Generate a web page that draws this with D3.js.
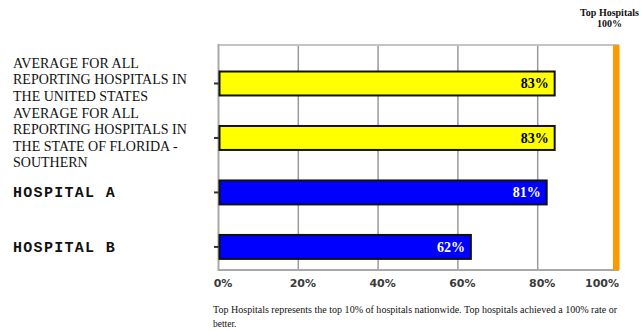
<!DOCTYPE html>
<html><head><meta charset="utf-8">
<script src="https://cdn.jsdelivr.net/npm/d3@7"></script>
<style>body{margin:0;background:#fff}svg{display:block}</style>
</head><body>
<svg id="c" width="641" height="331"></svg>
<script>
const categories = [
  "AVERAGE FOR ALL REPORTING HOSPITALS IN THE UNITED STATES",
  "AVERAGE FOR ALL REPORTING HOSPITALS IN THE STATE OF FLORIDA - SOUTHERN",
  "HOSPITAL A",
  "HOSPITAL B"
];
const labelLines = [
  ["AVERAGE FOR ALL", "REPORTING HOSPITALS IN", "THE UNITED STATES"],
  ["AVERAGE FOR ALL", "REPORTING HOSPITALS IN", "THE STATE OF FLORIDA -", "SOUTHERN"],
  ["HOSPITAL A"],
  ["HOSPITAL B"]
];
const values = [83, 83, 81, 62];
const barKinds = ["avg", "avg", "hosp", "hosp"];
const tickValues = [0, 20, 40, 60, 80, 100];
const topValue = 100;
const topLabel = ["Top Hospitals", "100%"];
const footnote = ["Top Hospitals represents the top 10% of hospitals nationwide. Top hospitals achieved a 100% rate or", "better."];

const svg = d3.select("#c");
const L = 218.5, R = 617.5, T = 45, B = 270;
const x = d3.scaleLinear().domain([0, 100]).range([L, R]);
const y = d3.scaleBand().domain(categories).range([T, B])
  .paddingInner(0.56).paddingOuter(0.345).align(0.705);
const fill = d3.scaleOrdinal().domain(["avg", "hosp"]).range(["#ffff00", "#0000ff"]);
const textFill = d3.scaleOrdinal().domain(["avg", "hosp"]).range(["#000", "#fff"]);
const cy = c => y(c) + y.bandwidth() / 2;

// gridlines
svg.append("g").selectAll("line").data(tickValues.slice(1, -1)).join("line")
  .attr("x1", d => x(d)).attr("x2", d => x(d)).attr("y1", T).attr("y2", B)
  .attr("stroke", "#9a9a9a").attr("stroke-width", 1.5);
// frame top & left & bottom
svg.append("line").attr("x1", L).attr("x2", R + 1.5).attr("y1", T).attr("y2", T)
  .attr("stroke", "#c4c4c4").attr("stroke-width", 2);
svg.append("line").attr("x1", L).attr("x2", L).attr("y1", T - 1).attr("y2", B + 1)
  .attr("stroke", "#a8a8a8").attr("stroke-width", 2);
svg.append("line").attr("x1", L).attr("x2", R + 1.5).attr("y1", B).attr("y2", B)
  .attr("stroke", "#a8a8a8").attr("stroke-width", 2);

// orange top hospitals line
svg.append("rect").attr("x", x(topValue) - 4.5).attr("width", 6.5)
  .attr("y", T).attr("height", B - T).attr("fill", "#ff9900");

// left ticks
svg.append("g").selectAll("line").data(categories).join("line")
  .attr("x1", L - 4.5).attr("x2", L).attr("y1", cy).attr("y2", cy)
  .attr("stroke", "#333").attr("stroke-width", 2);

// bars
svg.append("g").selectAll("rect").data(values).join("rect")
  .attr("x", x(0) + 1).attr("y", (d, i) => y(categories[i]))
  .attr("width", d => x(d) - x(0) + 4).attr("height", y.bandwidth())
  .attr("fill", (d, i) => fill(barKinds[i])).attr("stroke", "#111").attr("stroke-width", 2);

// bar labels
svg.append("g").selectAll("text").data(values).join("text")
  .attr("x", d => x(d) - 1).attr("y", (d, i) => cy(categories[i]) + 5)
  .attr("text-anchor", "end").attr("font-family", "Liberation Serif").attr("font-weight", "bold")
  .attr("font-size", 14).attr("fill", (d, i) => textFill(barKinds[i])).text(d => d + "%");

// axis tick labels
svg.append("g").selectAll("text").data(tickValues).join("text")
  .attr("x", d => d === 100 ? x(d) + 1.5 : x(d) + 4.5).attr("y", 287)
  .attr("text-anchor", d => d === 100 ? "end" : "middle")
  .attr("font-family", "DejaVu Sans").attr("font-weight", "bold").attr("font-size", 11)
  .attr("fill", "#3a3a3a").text(d => d + "%");

// category labels: the two long serif labels flow as one block between their bars
const lineH = 16.6;
const serifLines = labelLines[0].concat(labelLines[1]);
const blockMid = (cy(categories[0]) + cy(categories[1])) / 2 + 2;
const serif = svg.append("text").attr("font-family", "Liberation Serif")
  .attr("font-size", 14).attr("fill", "#111");
serifLines.forEach((ln, j) => {
  serif.append("tspan").attr("x", 13)
    .attr("y", blockMid - (serifLines.length - 1) * lineH / 2 + j * lineH + 4.8)
    .text(ln);
});
[2, 3].forEach(i => {
  svg.append("text").attr("font-family", "Liberation Mono").attr("font-weight", "bold")
    .attr("font-size", 15).attr("letter-spacing", 1.3).attr("fill", "#111")
    .attr("x", 13).attr("y", cy(categories[i]) + 5)
    .text(labelLines[i][0]);
});

// top label
svg.append("g").selectAll("text").data(topLabel).join("text")
  .attr("x", x(topValue) - 8).attr("y", (d, i) => 16 + i * 11)
  .attr("text-anchor", "middle").attr("font-family", "Liberation Serif").attr("font-weight", "bold")
  .attr("font-size", 10).attr("fill", "#111").text(d => d);

// footnote
svg.append("g").selectAll("text").data(footnote).join("text")
  .attr("x", 213).attr("y", (d, i) => 313 + i * 14)
  .attr("font-family", "Liberation Serif").attr("font-size", 9.5).attr("fill", "#111")
  .each(function (d, i) { if (i === 0) d3.select(this).attr("textLength", 404).attr("lengthAdjust", "spacingAndGlyphs"); })
  .text(d => d);
</script>
</body></html>
